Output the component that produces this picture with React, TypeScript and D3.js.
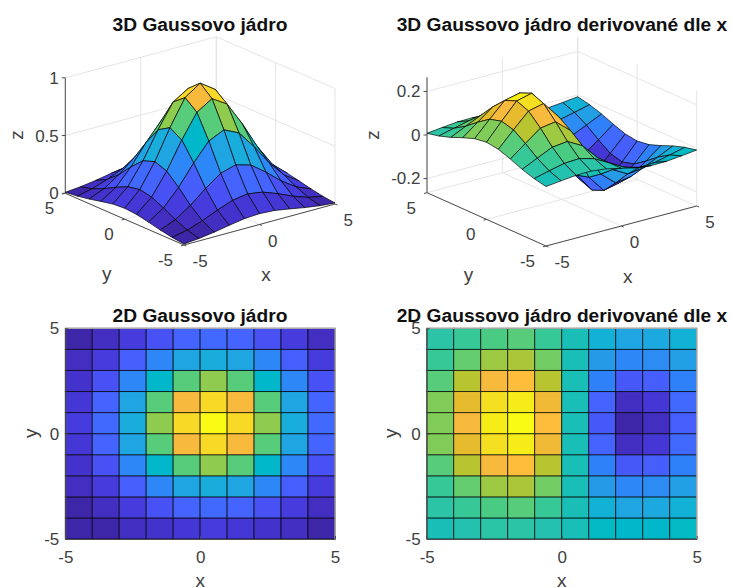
import React, { useEffect, useRef } from "react";
import * as d3 from "d3";

// grid of the kernels, rows run from y = -5 up to y = 5
const gridX = [-5, -4, -3, -2, -1, 0, 1, 2, 3, 4, 5];
const gridY = [-5, -4, -3, -2, -1, 0, 1, 2, 3, 4, 5];

const kernel = [
  [0.009, 0.021, 0.04, 0.064, 0.086, 0.094, 0.086, 0.064, 0.04, 0.021, 0.009],
  [0.021, 0.048, 0.094, 0.151, 0.2, 0.22, 0.2, 0.151, 0.094, 0.048, 0.021],
  [0.04, 0.094, 0.182, 0.293, 0.389, 0.427, 0.389, 0.293, 0.182, 0.094, 0.04],
  [0.064, 0.151, 0.293, 0.469, 0.623, 0.685, 0.623, 0.469, 0.293, 0.151, 0.064],
  [0.086, 0.2, 0.389, 0.623, 0.828, 0.91, 0.828, 0.623, 0.389, 0.2, 0.086],
  [0.094, 0.22, 0.427, 0.685, 0.91, 1, 0.91, 0.685, 0.427, 0.22, 0.094],
  [0.086, 0.2, 0.389, 0.623, 0.828, 0.91, 0.828, 0.623, 0.389, 0.2, 0.086],
  [0.064, 0.151, 0.293, 0.469, 0.623, 0.685, 0.623, 0.469, 0.293, 0.151, 0.064],
  [0.04, 0.094, 0.182, 0.293, 0.389, 0.427, 0.389, 0.293, 0.182, 0.094, 0.04],
  [0.021, 0.048, 0.094, 0.151, 0.2, 0.22, 0.2, 0.151, 0.094, 0.048, 0.021],
  [0.009, 0.021, 0.04, 0.064, 0.086, 0.094, 0.086, 0.064, 0.04, 0.021, 0.009],
];

const derivative = [
  [0.008, 0.016, 0.023, 0.024, 0.016, 0, -0.016, -0.024, -0.023, -0.016, -0.008],
  [0.02, 0.037, 0.053, 0.057, 0.038, 0, -0.038, -0.057, -0.053, -0.037, -0.02],
  [0.038, 0.071, 0.103, 0.111, 0.073, 0, -0.073, -0.111, -0.103, -0.071, -0.038],
  [0.061, 0.114, 0.166, 0.177, 0.118, 0, -0.118, -0.177, -0.166, -0.114, -0.061],
  [0.081, 0.152, 0.22, 0.236, 0.157, 0, -0.157, -0.236, -0.22, -0.152, -0.081],
  [0.089, 0.167, 0.242, 0.259, 0.172, 0, -0.172, -0.259, -0.242, -0.167, -0.089],
  [0.081, 0.152, 0.22, 0.236, 0.157, 0, -0.157, -0.236, -0.22, -0.152, -0.081],
  [0.061, 0.114, 0.166, 0.177, 0.118, 0, -0.118, -0.177, -0.166, -0.114, -0.061],
  [0.038, 0.071, 0.103, 0.111, 0.073, 0, -0.073, -0.111, -0.103, -0.071, -0.038],
  [0.02, 0.037, 0.053, 0.057, 0.038, 0, -0.038, -0.057, -0.053, -0.037, -0.02],
  [0.008, 0.016, 0.023, 0.024, 0.016, 0, -0.016, -0.024, -0.023, -0.016, -0.008],
];

const xyTicks = [-5, 0, 5];
const kernelZTicks = [0, 0.5, 1];
const derivativeZTicks = [-0.2, 0, 0.2];

const title3d = "3D Gaussovo jádro";
const title3dDer = "3D Gaussovo jádro derivované dle x";
const title2d = "2D Gaussovo jádro";
const title2dDer = "2D Gaussovo jádro derivované dle x";

// matlab parula, 64 steps
const parula = [
  [0.2422, 0.1504, 0.6603], [0.2504, 0.165, 0.7076], [0.2578, 0.1818, 0.7511], [0.2647, 0.1978, 0.7952],
  [0.2706, 0.2147, 0.8364], [0.2751, 0.2342, 0.871], [0.2783, 0.2559, 0.8991], [0.2803, 0.2782, 0.9221],
  [0.2813, 0.3006, 0.9414], [0.281, 0.3228, 0.9579], [0.2795, 0.3447, 0.9717], [0.276, 0.3667, 0.9829],
  [0.2699, 0.3892, 0.9906], [0.2602, 0.4123, 0.9952], [0.244, 0.4358, 0.9988], [0.2206, 0.4603, 0.9973],
  [0.1963, 0.4847, 0.9892], [0.1834, 0.5074, 0.9798], [0.1786, 0.5289, 0.9682], [0.1764, 0.5499, 0.952],
  [0.1687, 0.5703, 0.9359], [0.154, 0.5902, 0.9218], [0.146, 0.6091, 0.9079], [0.138, 0.6276, 0.8973],
  [0.1248, 0.6459, 0.8883], [0.1113, 0.6635, 0.8763], [0.0952, 0.6798, 0.8598], [0.0689, 0.6948, 0.8394],
  [0.0297, 0.7082, 0.8163], [0.0036, 0.7203, 0.7917], [0.0067, 0.7312, 0.766], [0.0433, 0.7411, 0.7394],
  [0.0964, 0.75, 0.712], [0.1408, 0.7584, 0.6842], [0.1717, 0.767, 0.6554], [0.1938, 0.7758, 0.6251],
  [0.2161, 0.7843, 0.5923], [0.247, 0.7918, 0.5567], [0.2906, 0.7973, 0.5188], [0.3406, 0.8008, 0.4789],
  [0.3909, 0.8029, 0.4354], [0.4456, 0.8024, 0.3909], [0.5044, 0.7993, 0.348], [0.5616, 0.7942, 0.3045],
  [0.6174, 0.7876, 0.2612], [0.672, 0.7793, 0.2227], [0.7242, 0.7698, 0.191], [0.7738, 0.7598, 0.1646],
  [0.8203, 0.7498, 0.1535], [0.8634, 0.7406, 0.1596], [0.9035, 0.733, 0.1774], [0.9393, 0.7288, 0.21],
  [0.9728, 0.7298, 0.2394], [0.9956, 0.7434, 0.2371], [0.997, 0.7659, 0.2199], [0.9952, 0.7861, 0.1974],
  [0.9892, 0.8071, 0.1797], [0.9786, 0.8298, 0.164], [0.9676, 0.8522, 0.1492], [0.961, 0.8747, 0.13],
  [0.9597, 0.8986, 0.1146], [0.9619, 0.9245, 0.095], [0.9681, 0.9531, 0.0755], [0.9769, 0.9839, 0.0805],
];

const FONT = "'Liberation Sans', Arial, sans-serif";
const TEXT = "#404040";
const AXIS = "#4d4d4d";
const GRID = "#e2e2e2";
const TICK_SIZE = 17;
const LABEL_SIZE = 19;

const colorFor = (domain: number[]) => {
  const t = d3.scaleLinear().domain(domain).range([0, 1]).clamp(true);
  const ramp = d3.scaleQuantize<string>()
    .domain([0, 1])
    .range(parula.map(([r, g, b]) => d3.rgb(r * 255, g * 255, b * 255).formatHex()));
  return (v: number) => ramp(t(v));
};

const addText = (g: any, x: number, y: number, label: string, size: number, anchor = "middle") =>
  g.append("text")
    .attr("x", x)
    .attr("y", y)
    .attr("dy", "0.35em")
    .attr("text-anchor", anchor)
    .attr("font-family", FONT)
    .attr("font-size", size)
    .attr("fill", TEXT)
    .text(label);

const addTitle = (svg: any, x: number, y: number, label: string) =>
  svg.append("text")
    .attr("x", x)
    .attr("y", y)
    .attr("text-anchor", "middle")
    .attr("font-family", FONT)
    .attr("font-weight", "bold")
    .attr("font-size", 19.2)
    .attr("fill", "#111")
    .text(label);

type Corners = { left: number[]; front: number[]; right: number[]; height: number };

function drawSurface(svg: any, rows: number[][], zDomain: number[], zTicks: number[], box: Corners, labelX: number, cDomain: number[]) {
  const g = svg.append("g");
  const fx = d3.scaleLinear().domain([-5, 5]).range([0, 1]);
  const fy = d3.scaleLinear().domain([-5, 5]).range([0, 1]);
  const fz = d3.scaleLinear().domain(zDomain).range([0, box.height]);
  const { left, front, right } = box;
  const project = (x: number, y: number, z: number): [number, number] => [
    front[0] + fx(x) * (right[0] - front[0]) + fy(y) * (left[0] - front[0]),
    front[1] + fx(x) * (right[1] - front[1]) + fy(y) * (left[1] - front[1]) - fz(z),
  ];
  const [zMin, zMax] = zDomain;
  const line = (a: [number, number], b: [number, number], color: string, w: number) =>
    g.append("line")
      .attr("x1", a[0]).attr("y1", a[1]).attr("x2", b[0]).attr("y2", b[1])
      .attr("stroke", color).attr("stroke-width", w);

  // back walls and floor
  xyTicks.forEach((t) => {
    line(project(t, -5, zMin), project(t, 5, zMin), GRID, 0.9);
    line(project(5, t, zMin), project(-5, t, zMin), GRID, 0.9);
    line(project(t, 5, zMin), project(t, 5, zMax), GRID, 0.9);
    line(project(5, t, zMin), project(5, t, zMax), GRID, 0.9);
  });
  zTicks.forEach((t) => {
    line(project(-5, 5, t), project(5, 5, t), GRID, 0.9);
    line(project(5, 5, t), project(5, -5, t), GRID, 0.9);
  });

  // axes
  line(project(-5, 5, zMin), project(-5, 5, zMax), AXIS, 1);
  line(project(-5, 5, zMin), project(-5, -5, zMin), AXIS, 1);
  line(project(-5, -5, zMin), project(5, -5, zMin), AXIS, 1);
  xyTicks.forEach((t) => {
    line(project(t, -5, zMin), project(t, -5.2, zMin), AXIS, 1);
    line(project(-5, t, zMin), project(-5.2, t, zMin), AXIS, 1);
    const px = project(t, -5, zMin);
    addText(g, px[0] + 8.5, px[1] + 16.5, String(t), TICK_SIZE, "start");
    const py = project(-5, t, zMin);
    addText(g, py[0] - 11, py[1] + 15, String(t), TICK_SIZE, "end");
  });
  zTicks.forEach((t) => {
    const p = project(-5, 5, t);
    line(p, [p[0] - 3.5, p[1]], AXIS, 1);
    addText(g, p[0] - 6.5, p[1], String(t), TICK_SIZE, "end");
  });

  const xMid = project(0, -5, zMin);
  const yMid = project(-5, 0, zMin);
  addText(g, xMid[0] + 6.5, xMid[1] + 50, "x", LABEL_SIZE);
  addText(g, yMid[0] - 18, yMid[1] + 54.5, "y", LABEL_SIZE);
  const zLabel = addText(g, 0, 0, "z", LABEL_SIZE);
  zLabel.attr("transform", `translate(${labelX},135) rotate(-90)`);

  // far quads first, flat colour taken from the lowest corner as surf does
  const color = colorFor(cDomain);
  const path = d3.line<[number, number]>();
  for (let j = gridY.length - 2; j >= 0; j--) {
    for (let i = gridX.length - 2; i >= 0; i--) {
      const quad = [
        project(gridX[i], gridY[j], rows[j][i]),
        project(gridX[i + 1], gridY[j], rows[j][i + 1]),
        project(gridX[i + 1], gridY[j + 1], rows[j + 1][i + 1]),
        project(gridX[i], gridY[j + 1], rows[j + 1][i]),
      ];
      g.append("path")
        .attr("d", path(quad) + "Z")
        .attr("fill", color(rows[j][i]))
        .attr("stroke", "#000")
        .attr("stroke-opacity", 0.8)
        .attr("stroke-width", 0.85)
        .attr("stroke-linejoin", "round");
    }
  }
}

function drawFlat(svg: any, rows: number[][], x0: number, x1: number, y0: number, y1: number, cDomain: number[], labelX: number) {
  const g = svg.append("g");
  const x = d3.scaleLinear().domain([-5, 5]).range([x0, x1]);
  const y = d3.scaleLinear().domain([-5, 5]).range([y1, y0]);
  const color = colorFor(cDomain);

  for (let j = 0; j < gridY.length - 1; j++) {
    for (let i = 0; i < gridX.length - 1; i++) {
      g.append("rect")
        .attr("x", x(gridX[i]))
        .attr("y", y(gridY[j + 1]))
        .attr("width", x(gridX[i + 1]) - x(gridX[i]))
        .attr("height", y(gridY[j]) - y(gridY[j + 1]))
        .attr("fill", color(rows[j][i]))
        .attr("stroke", "#000")
        .attr("stroke-opacity", 0.7)
        .attr("stroke-width", 1);
    }
  }

  // frame: top and right stay light grey in the original
  g.append("path")
    .attr("d", `M${x0},${y0}H${x1}V${y1}`)
    .attr("fill", "none")
    .attr("stroke", "#a8a8a8")
    .attr("stroke-width", 1.2);

  const xAxis = g.append("g")
    .attr("transform", `translate(0,${y1})`)
    .call(d3.axisBottom(x).tickValues(xyTicks).tickSize(-3).tickSizeOuter(0).tickPadding(12).tickFormat(d3.format("")));
  const yAxis = g.append("g")
    .attr("transform", `translate(${x0},0)`)
    .call(d3.axisLeft(y).tickValues(xyTicks).tickSize(-3).tickSizeOuter(0).tickPadding(6).tickFormat((d: any) => String(d)));
  xAxis.selectAll("text").text((d: any) => String(d));
  [xAxis, yAxis].forEach((a) => {
    a.selectAll("path").attr("stroke", AXIS).attr("stroke-width", 1);
    a.selectAll("line").attr("stroke", AXIS).attr("stroke-width", 1);
    a.selectAll("text")
      .attr("font-family", FONT)
      .attr("font-size", TICK_SIZE)
      .attr("fill", TEXT);
  });

  addText(g, (x0 + x1) / 2, y1 + 41.5, "x", LABEL_SIZE);
  const yLabel = addText(g, 0, 0, "y", LABEL_SIZE);
  yLabel.attr("transform", `translate(${labelX},${(y0 + y1) / 2 - 0.5}) rotate(-90)`);
}

export default function App() {
  const svgRef = useRef<SVGSVGElement>(null);

  useEffect(() => {
    const svg = d3.select(svgRef.current);
    svg.selectAll("*").remove();

    const kernelColor = [0.009, 1];
    const derColor = [-0.259, 0.259];

    drawSurface(svg, kernel, [0, 1], kernelZTicks,
      { left: [65.3, 193.3], front: [184, 245], right: [335, 204], height: 115.5 }, 16, kernelColor);
    drawSurface(svg, derivative, [-0.265, 0.265], derivativeZTicks,
      { left: [427, 192.7], front: [546, 246], right: [696.7, 206], height: 115.4 }, 372, derColor);
    drawFlat(svg, kernel, 65.3, 335, 328.3, 539, kernelColor, 30);
    drawFlat(svg, derivative, 426.7, 696.7, 328.3, 539, derColor, 390);

    addTitle(svg, 200, 30.5, title3d);
    addTitle(svg, 562, 30.5, title3dDer);
    addTitle(svg, 200, 322, title2d);
    addTitle(svg, 562, 322, title2dDer);
  }, []);

  return (
    <svg
      ref={svgRef}
      width={731}
      height={588}
      style={{ position: "absolute", left: 0, top: 0, background: "#fff" }}
    />
  );
}
